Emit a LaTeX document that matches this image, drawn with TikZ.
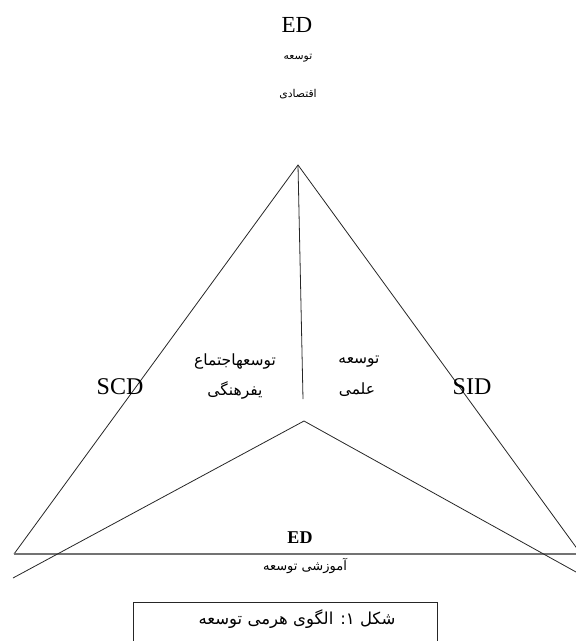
\documentclass[tikz,border=0pt]{standalone}
\usepackage{fontspec}
\setmainfont{Liberation Serif}
\newfontfamily\arabicfont[Script=Arabic]{DejaVu Sans}
\TeXXeTstate=1
\tikzset{
  thinline/.style={line width=0.8pt, black!85},
  baseline/.style={line width=1.8pt, black!55},
  latin/.style={inner sep=0pt, font=\fontsize{23}{26}\selectfont},
  latinbold/.style={inner sep=0pt, font=\fontsize{18}{20}\selectfont\bfseries},
  arabtop/.style={inner sep=0pt, font=\fontsize{10.8}{12}\arabicfont},
  arabmid/.style={inner sep=0pt, font=\fontsize{15.5}{17}\arabicfont},
  arabbot/.style={inner sep=0pt, font=\fontsize{13}{15}\arabicfont},
  arabcap/.style={inner sep=0pt, font=\fontsize{16.5}{18}\arabicfont},
  captionbox/.style={draw, line width=0.8pt, black!85}
}
\begin{document}
\begin{tikzpicture}[x=1pt,y=-1pt]
\useasboundingbox (0,0) rectangle (576,641);
% vertices
\coordinate (A) at (298,165);
\coordinate (L) at (14,554);
\coordinate (R) at (581,554);
\coordinate (BL) at (14,554);
\coordinate (BR) at (576,554);
\coordinate (V) at (303,399);
\coordinate (CL) at (13,578);
\coordinate (CA) at (304,421);
\coordinate (CR) at (576,572);
% big triangle legs
\draw[thinline] (L) -- (A) -- (R);
\draw[thinline] (A) -- (V);
\draw[baseline] (BL) -- (BR);
\draw[thinline] (CL) -- (CA) -- (CR);
% texts
\node[latin] (edtop) at (297,25) {ED};
\node[arabtop] (t1) at (298,58) {\beginR توسعه\endR};
\node[arabtop] (t2) at (298,94) {\beginR اقتصادی\endR};
\node[latin, font=\fontsize{24}{26}\selectfont] (scd) at (120,387) {SCD};
\node[latin, font=\fontsize{24}{26}\selectfont] (sid) at (472,387) {SID};
\node[arabmid] (m1) at (235,361) {\beginR توسعهاجتماع\endR};
\node[arabmid] (m2) at (235,390) {\beginR یفرهنگی\endR};
\node[arabmid] (r1) at (359,362) {\beginR توسعه\endR};
\node[arabmid] (r2) at (357,390) {\beginR علمی\endR};
\node[latinbold] (edbot) at (300,538) {ED};
\node[arabbot] (edu) at (305,566) {توسعه آموزشی};
% caption
\node[captionbox, minimum width=304pt, minimum height=60pt, anchor=north west] (cap) at (133,602) {};
\node[arabcap] (captext) at (297,619) {\beginR شکل ۱: الگوی هرمی توسعه\endR};
\end{tikzpicture}
\end{document}
